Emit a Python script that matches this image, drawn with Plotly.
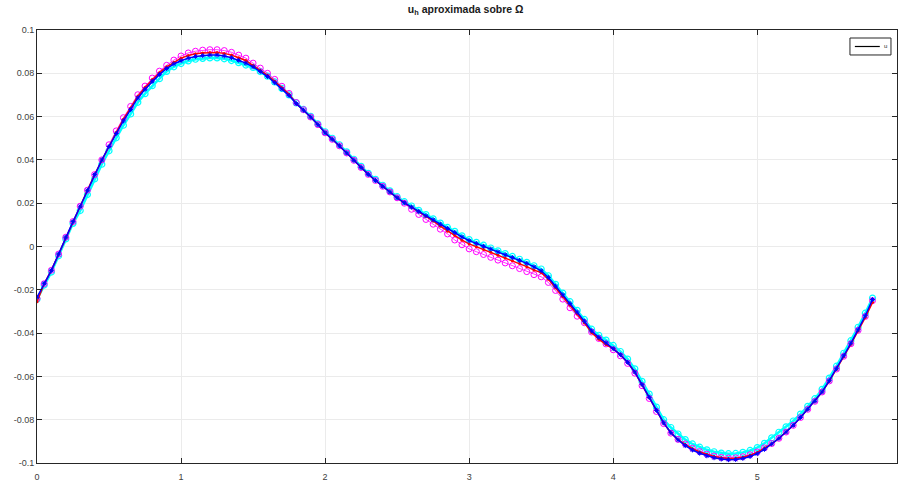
import numpy as np
import plotly.graph_objects as go

# Nodes of the discretisation of Omega
x_nodes = np.linspace(0.0, 5.8, 117)

# Approximate solutions u_h obtained with four schemes
u_blue = [
    -0.0235, -0.0170, -0.0110, -0.0035, 0.0043, 0.0115, 0.0186, 0.0260, 0.0332, 0.0400,
    0.0462, 0.0522, 0.0580, 0.0632, 0.0686, 0.0726, 0.0763, 0.0795, 0.0822, 0.0843,
    0.0858, 0.0870, 0.0878, 0.0882, 0.0884, 0.0884, 0.0880, 0.0872, 0.0860, 0.0847,
    0.0830, 0.0808, 0.0785, 0.0757, 0.0727, 0.0697, 0.0660, 0.0630, 0.0598, 0.0563,
    0.0525, 0.0495, 0.0465, 0.0432, 0.0398, 0.0365, 0.0333, 0.0305, 0.0278, 0.0252,
    0.0225, 0.0202, 0.0182, 0.0162, 0.0142, 0.0123, 0.0103, 0.0083, 0.0065, 0.0044,
    0.0027, 0.0014, 0.0001, -0.0012, -0.0025, -0.0038, -0.0051, -0.0064, -0.0078, -0.0094,
    -0.0112, -0.0143, -0.0183, -0.0223, -0.0263, -0.0303, -0.0345, -0.0390, -0.0420, -0.0445,
    -0.0472, -0.0500, -0.0535, -0.0580, -0.0638, -0.0697, -0.0757, -0.0815, -0.0860, -0.0893,
    -0.0920, -0.0940, -0.0955, -0.0967, -0.0976, -0.0982, -0.0985, -0.0984, -0.0979, -0.0970,
    -0.0957, -0.0937, -0.0912, -0.0886, -0.0857, -0.0826, -0.0790, -0.0752, -0.0715, -0.0672,
    -0.0620, -0.0565, -0.0505, -0.0447, -0.0385, -0.0320, -0.0245,
]

u_red = [
    -0.0255, -0.0172, -0.0110, -0.0035, 0.0043, 0.0115, 0.0186, 0.0260, 0.0332, 0.0400,
    0.0462, 0.0526, 0.0588, 0.0640, 0.0694, 0.0734, 0.0771, 0.0803, 0.0830, 0.0851,
    0.0870, 0.0882, 0.0890, 0.0894, 0.0896, 0.0896, 0.0892, 0.0884, 0.0872, 0.0859,
    0.0836, 0.0814, 0.0791, 0.0763, 0.0733, 0.0703, 0.0660, 0.0630, 0.0598, 0.0563,
    0.0525, 0.0495, 0.0465, 0.0432, 0.0398, 0.0365, 0.0333, 0.0305, 0.0278, 0.0252,
    0.0225, 0.0202, 0.0182, 0.0162, 0.0140, 0.0118, 0.0094, 0.0071, 0.0051, 0.0029,
    0.0012, -0.0001, -0.0014, -0.0027, -0.0040, -0.0053, -0.0066, -0.0079, -0.0093, -0.0109,
    -0.0120, -0.0151, -0.0191, -0.0231, -0.0271, -0.0311, -0.0353, -0.0398, -0.0428, -0.0453,
    -0.0472, -0.0500, -0.0535, -0.0580, -0.0638, -0.0697, -0.0757, -0.0815, -0.0860, -0.0893,
    -0.0914, -0.0934, -0.0949, -0.0961, -0.0970, -0.0976, -0.0979, -0.0978, -0.0973, -0.0964,
    -0.0951, -0.0931, -0.0912, -0.0886, -0.0857, -0.0826, -0.0790, -0.0752, -0.0715, -0.0672,
    -0.0622, -0.0568, -0.0509, -0.0451, -0.0390, -0.0328, -0.0258,
]

u_magenta = [
    -0.0240, -0.0172, -0.0110, -0.0035, 0.0043, 0.0115, 0.0186, 0.0260, 0.0332, 0.0400,
    0.0470, 0.0534, 0.0595, 0.0647, 0.0701, 0.0741, 0.0778, 0.0810, 0.0837, 0.0861,
    0.0880, 0.0894, 0.0902, 0.0907, 0.0909, 0.0909, 0.0905, 0.0897, 0.0884, 0.0870,
    0.0847, 0.0824, 0.0800, 0.0772, 0.0740, 0.0707, 0.0665, 0.0632, 0.0598, 0.0563,
    0.0525, 0.0495, 0.0465, 0.0432, 0.0398, 0.0365, 0.0333, 0.0305, 0.0278, 0.0252,
    0.0225, 0.0200, 0.0172, 0.0148, 0.0125, 0.0103, 0.0080, 0.0058, 0.0030, 0.0008,
    -0.0011, -0.0024, -0.0037, -0.0050, -0.0063, -0.0076, -0.0089, -0.0102, -0.0116, -0.0130,
    -0.0140, -0.0166, -0.0203, -0.0243, -0.0283, -0.0322, -0.0352, -0.0395, -0.0425, -0.0450,
    -0.0477, -0.0505, -0.0540, -0.0585, -0.0643, -0.0702, -0.0762, -0.0818, -0.0862, -0.0891,
    -0.0912, -0.0932, -0.0947, -0.0959, -0.0968, -0.0974, -0.0977, -0.0976, -0.0971, -0.0962,
    -0.0949, -0.0930, -0.0910, -0.0886, -0.0857, -0.0826, -0.0790, -0.0752, -0.0715, -0.0672,
    -0.0621, -0.0566, -0.0507, -0.0449, -0.0387, -0.0323, -0.0250,
]

u_cyan = [
    -0.0243, -0.0178, -0.0118, -0.0043, 0.0035, 0.0107, 0.0166, 0.0240, 0.0312, 0.0380,
    0.0442, 0.0502, 0.0560, 0.0612, 0.0666, 0.0706, 0.0743, 0.0775, 0.0809, 0.0830,
    0.0845, 0.0857, 0.0865, 0.0869, 0.0871, 0.0871, 0.0867, 0.0859, 0.0849, 0.0838,
    0.0827, 0.0808, 0.0787, 0.0760, 0.0730, 0.0700, 0.0663, 0.0633, 0.0601, 0.0566,
    0.0530, 0.0500, 0.0470, 0.0437, 0.0403, 0.0370, 0.0338, 0.0310, 0.0283, 0.0257,
    0.0230, 0.0207, 0.0187, 0.0167, 0.0147, 0.0128, 0.0108, 0.0088, 0.0070, 0.0049,
    0.0032, 0.0019, 0.0006, -0.0007, -0.0020, -0.0033, -0.0046, -0.0059, -0.0073, -0.0089,
    -0.0104, -0.0135, -0.0175, -0.0215, -0.0255, -0.0295, -0.0337, -0.0382, -0.0410, -0.0432,
    -0.0457, -0.0485, -0.0520, -0.0565, -0.0623, -0.0682, -0.0742, -0.0800, -0.0836, -0.0866,
    -0.0892, -0.0912, -0.0927, -0.0939, -0.0948, -0.0954, -0.0957, -0.0956, -0.0951, -0.0942,
    -0.0929, -0.0909, -0.0884, -0.0858, -0.0833, -0.0806, -0.0774, -0.0738, -0.0703, -0.0660,
    -0.0608, -0.0553, -0.0493, -0.0435, -0.0373, -0.0308, -0.0238,
]

x_ticks = [0, 1, 2, 3, 4, 5]
x_tick_labels = ["0", "1", "2", "3", "4", "5"]
y_ticks = [-0.1, -0.08, -0.06, -0.04, -0.02, 0, 0.02, 0.04, 0.06, 0.08, 0.1]
y_tick_labels = ["-0.1", "-0.08", "-0.06", "-0.04", "-0.02", "0",
                 "0.02", "0.04", "0.06", "0.08", "0.1"]
legend_label = "u"

FONT = "Liberation Sans, Arial, sans-serif"

fig = go.Figure()

fig.add_trace(go.Scatter(
    x=x_nodes, y=u_cyan, mode="lines+markers", showlegend=False,
    line=dict(color="#00ffff", width=2.5),
    marker=dict(symbol="circle-open", size=6, color="#00ffff", line=dict(width=1.2)),
))
fig.add_trace(go.Scatter(
    x=x_nodes, y=u_magenta, mode="lines+markers", showlegend=False,
    line=dict(color="#ff00ff", width=0.8),
    marker=dict(symbol="circle-open", size=6, color="#ff00ff", line=dict(width=1)),
))
fig.add_trace(go.Scatter(
    x=x_nodes, y=u_red, mode="lines+markers", showlegend=False,
    line=dict(color="#ff0000", width=1.5),
    marker=dict(symbol="circle", size=3, color="#ff0000"),
))
fig.add_trace(go.Scatter(
    x=x_nodes, y=u_blue, mode="lines+markers", showlegend=False,
    line=dict(color="#0000ff", width=1.5),
    marker=dict(symbol="asterisk-open", size=4, color="#0000ff", line=dict(width=1, color="#0000ff")),
))

# compact legend box in the upper-right corner
fig.add_shape(type="rect", xref="paper", yref="paper",
              x0=0.9453, x1=0.993, y0=0.9423, y1=0.9815,
              line=dict(color="#262626", width=1), fillcolor="white", layer="above")
fig.add_shape(type="line", xref="paper", yref="paper",
              x0=0.951, x1=0.980, y0=0.9619, y1=0.9619,
              line=dict(color="black", width=1.2), layer="above")
fig.add_annotation(xref="paper", yref="paper", x=0.9866, y=0.9619,
                   text=legend_label, showarrow=False, xanchor="center", yanchor="middle",
                   font=dict(family=FONT, size=6, color="#262626"))

axis_common = dict(
    showline=True, linecolor="#262626", linewidth=1, mirror="ticks",
    ticks="inside", ticklen=5, tickcolor="#262626", tickwidth=1,
    showgrid=True, gridcolor="#ebebeb", gridwidth=1,
    zeroline=False,
    tickfont=dict(family=FONT, size=9, color="#404040"),
)

fig.update_layout(
    width=899, height=486,
    margin=dict(l=37, r=2, t=30, b=23),
    paper_bgcolor="white", plot_bgcolor="white",
    title=dict(
        text="<b>u<sub>h</sub> aproximada sobre Ω</b>",
        x=0.518, xanchor="center", y=0.988, yanchor="top",
        font=dict(family=FONT, size=10.5, color="#1a1a1a"),
    ),
    xaxis=dict(range=[0, 5.97], tickvals=x_ticks, ticktext=x_tick_labels,
               ticklabelstandoff=5, **axis_common),
    yaxis=dict(range=[-0.1, 0.1], tickvals=y_ticks, ticktext=y_tick_labels, **axis_common),
    showlegend=False,
)

fig.write_html("out.html")
